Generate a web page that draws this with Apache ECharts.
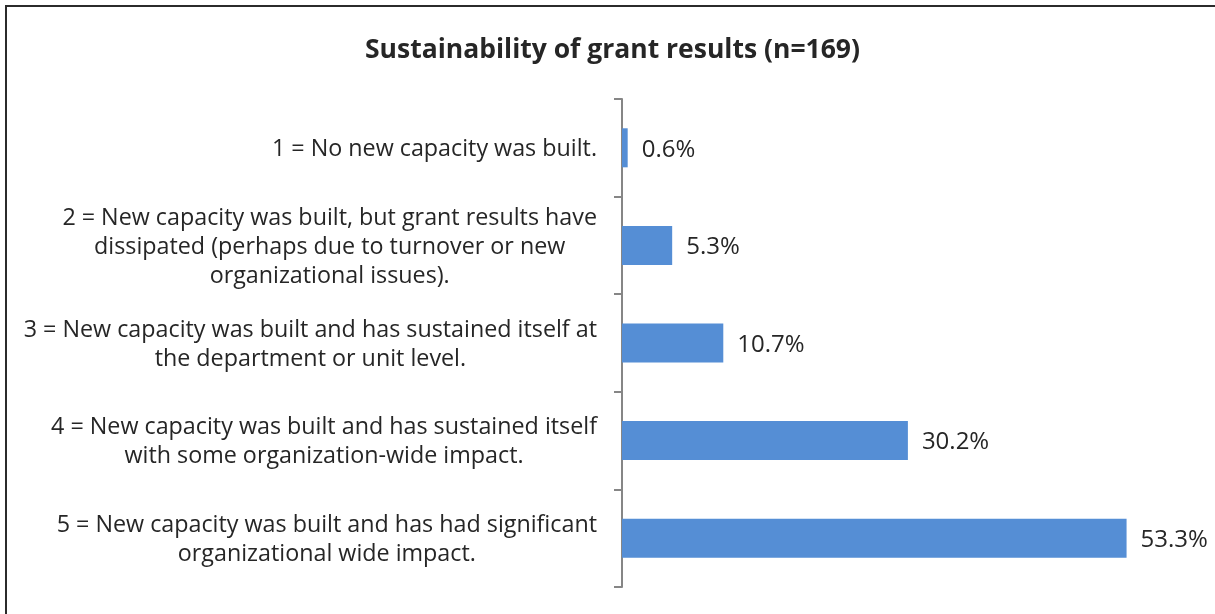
<!DOCTYPE html>
<html>
<head>
<meta charset="utf-8">
<script src="https://cdn.jsdelivr.net/npm/echarts@6/dist/echarts.min.js"></script>
<style>
  html, body { margin: 0; padding: 0; background: #fff; }
  #chart { width: 1215px; height: 614px; }
</style>
</head>
<body>
<div id="chart"></div>
<script>
const categories = [
  '1 = No new capacity was built.',
  '2 = New capacity was built, but grant results have\ndissipated (perhaps due to turnover or new\norganizational issues).',
  '3 = New capacity was built and has sustained itself at\nthe department or unit level.',
  '4 = New capacity was built and has sustained itself\nwith some organization-wide impact.',
  '5 = New capacity was built and has had significant\norganizational wide impact.'
];
const values = [0.6, 5.3, 10.7, 30.2, 53.3];

const FONT = 'Open Sans';
const chart = echarts.init(document.getElementById('chart'));

chart.setOption({
  animation: false,
  backgroundColor: '#fff',
  title: {
    text: 'Sustainability of grant results (n=169)',
    left: 360,
    top: 32,
    textStyle: { fontFamily: FONT, fontSize: 26.5, fontWeight: 'bold', color: '#262626' }
  },
  graphic: [{
    type: 'rect',
    shape: { x: 6, y: 6, width: 1300, height: 700 },
    style: { fill: 'none', stroke: '#2b2b2b', lineWidth: 2 },
    silent: true
  }],
  grid: { left: 622, right: 25, top: 99, bottom: 27 },
  xAxis: {
    type: 'value',
    min: 0,
    max: 60,
    show: false
  },
  yAxis: {
    type: 'category',
    inverse: true,
    data: categories,
    axisLine: { show: true, lineStyle: { color: '#868686', width: 2 } },
    axisTick: { show: true, length: 8, lineStyle: { color: '#868686', width: 2 } },
    axisLabel: {
      margin: 25,
      formatter: v => v.split('\n').map(l => '{c|' + l + '}').join('\n'),
      rich: {
        c: { align: 'center', fontFamily: FONT, fontSize: 23.3, lineHeight: 29, padding: [3, 0, 0, 0], color: '#262626' }
      }
    }
  },
  series: [{
    type: 'bar',
    data: values,
    barWidth: '40%',
    itemStyle: { color: '#558ed5' },
    label: {
      show: true,
      position: 'right',
      distance: 14,
      offset: [0, 2],
      formatter: p => p.value.toFixed(1) + '%',
      fontFamily: FONT,
      fontSize: 24,
      color: '#262626'
    }
  }]
});
</script>
</body>
</html>
